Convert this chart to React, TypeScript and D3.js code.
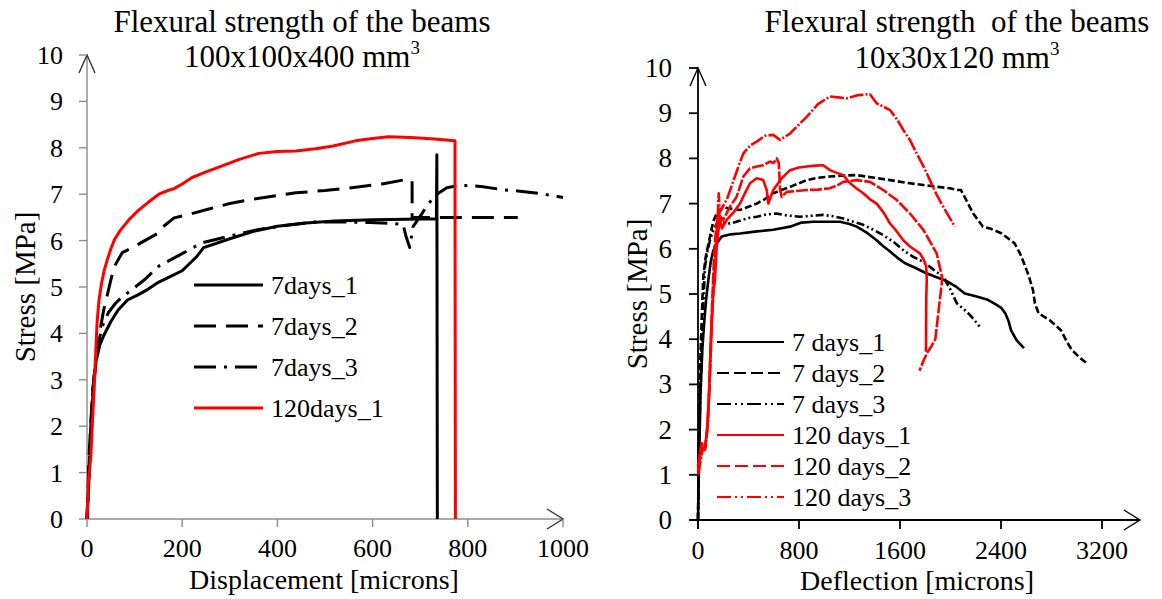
import { scaleLinear, line } from 'd3'

type Pt = [number, number]

// ---- left panel: 100x100x400 beams, displacement vs stress
const leftXTicks = [0, 200, 400, 600, 800, 1000]
const leftYTicks = [0, 1, 2, 3, 4, 5, 6, 7, 8, 9, 10]
const leftNames = ['7days_1', '7days_2', '7days_3', '120days_1']

const big7d1: Pt[] = [
  [0, 0], [3, 0.6], [8, 1.8], [13, 2.8], [19, 3.4], [27, 3.75], [35, 3.95], [50, 4.25], [65, 4.5],
  [85, 4.72], [105, 4.82], [128, 4.95], [150, 5.1], [180, 5.25], [200, 5.35], [215, 5.5], [230, 5.65],
  [245, 5.85], [300, 6.04], [350, 6.2], [400, 6.31], [460, 6.38], [520, 6.42], [600, 6.45], [672, 6.46],
  [734, 6.47], [735, 7.85], [736, 0],
]
const big7d2: Pt[] = [
  [0, 0], [5, 1.5], [12, 2.8], [20, 3.5], [27, 4.05], [35, 4.5], [42, 4.8], [50, 5.15], [58, 5.45],
  [74, 5.74], [95, 5.85], [113, 5.95], [151, 6.17], [160, 6.3], [183, 6.49], [220, 6.58], [252, 6.67],
  [300, 6.8], [346, 6.89], [400, 6.97], [439, 7.03], [500, 7.08], [556, 7.14], [620, 7.22], [672, 7.32],
  [683, 7.29], [683, 6.5], [905, 6.5],
]
const big7d3: Pt[] = [
  [0, 0], [4, 1.0], [9, 2.2], [15, 3.1], [22, 3.7], [32, 4.15], [45, 4.45], [60, 4.65], [75, 4.8],
  [89, 4.9], [120, 5.15], [151, 5.45], [200, 5.72], [241, 5.95], [300, 6.1], [361, 6.24], [420, 6.33],
  [478, 6.4], [540, 6.4], [594, 6.39], [640, 6.37], [664, 6.35], [670, 6.1], [678, 5.85], [685, 6.3],
  [703, 6.57], [716, 6.78], [735, 7.0], [756, 7.14], [776, 7.18], [804, 7.19], [832, 7.16], [878, 7.09],
  [905, 7.07], [955, 7.01], [1000, 6.93],
]
const big120d1: Pt[] = [
  [0, 0], [3, 0.8], [8, 1.35], [12, 2.2], [15, 2.8], [18, 3.5], [21, 4.2], [25, 4.7], [30, 5.05],
  [36, 5.35], [43, 5.6], [50, 5.82], [58, 6.03], [70, 6.22], [89, 6.46], [108, 6.65], [128, 6.82],
  [151, 7.0], [170, 7.08], [183, 7.12], [200, 7.22], [221, 7.36], [250, 7.48], [284, 7.61], [320, 7.75],
  [361, 7.88], [400, 7.92], [439, 7.93], [480, 7.98], [517, 8.04], [564, 8.15], [600, 8.2], [633, 8.24],
  [680, 8.22], [730, 8.19], [773, 8.15], [774, 0],
]

// ---- right panel: 10x30x120 beams, deflection vs stress
const rightXTicks = [0, 800, 1600, 2400, 3200]
const rightYTicks = [0, 1, 2, 3, 4, 5, 6, 7, 8, 9, 10]
const rightNames = ['7 days_1', '7 days_2', '7 days_3', '120 days_1', '120 days_2', '120 days_3']

const small7d1: Pt[] = [
  [0, 0], [10, 1.5], [20, 2.8], [35, 3.8], [50, 4.4], [65, 4.9], [82, 5.31], [100, 5.7], [120, 5.95],
  [148, 6.12], [188, 6.27], [260, 6.32], [333, 6.34], [450, 6.38], [596, 6.42], [729, 6.49], [820, 6.58],
  [911, 6.6], [1020, 6.6], [1125, 6.6], [1200, 6.55], [1257, 6.49], [1340, 6.35], [1415, 6.19],
  [1470, 6.05], [1521, 5.94], [1580, 5.8], [1640, 5.68], [1720, 5.58], [1800, 5.47], [1880, 5.38],
  [1960, 5.3], [2050, 5.15], [2113, 5.01], [2200, 4.95], [2289, 4.88], [2345, 4.79], [2400, 4.7],
  [2435, 4.57], [2460, 4.4], [2479, 4.2], [2523, 3.98], [2582, 3.8],
]
const small7d2: Pt[] = [
  [0, 0], [8, 2], [18, 3.5], [30, 4.5], [42, 5.38], [60, 5.8], [95, 6.27], [120, 6.6], [148, 6.78],
  [200, 6.93], [230, 6.9], [333, 6.86], [400, 6.93], [465, 7.0], [530, 7.1], [596, 7.23], [660, 7.3],
  [729, 7.37], [800, 7.45], [861, 7.52], [950, 7.57], [1045, 7.6], [1150, 7.62], [1257, 7.63],
  [1400, 7.57], [1521, 7.52], [1650, 7.46], [1785, 7.41], [1900, 7.37], [1996, 7.34], [2049, 7.3],
  [2083, 7.3], [2130, 7.05], [2180, 6.78], [2257, 6.49], [2313, 6.45], [2406, 6.34], [2508, 6.12],
  [2550, 5.9], [2582, 5.68], [2620, 5.4], [2653, 5.09], [2669, 4.79], [2698, 4.57], [2740, 4.5],
  [2786, 4.42], [2875, 4.2], [2920, 3.95], [2962, 3.76], [3020, 3.6], [3079, 3.47],
]
const small7d3: Pt[] = [
  [0, 0], [10, 1.8], [22, 3.2], [35, 4.3], [55, 5.6], [75, 5.95], [95, 6.19], [120, 6.4], [148, 6.56],
  [200, 6.58], [253, 6.56], [330, 6.62], [400, 6.68], [465, 6.71], [540, 6.76], [618, 6.78], [700, 6.74],
  [808, 6.71], [900, 6.73], [992, 6.75], [1070, 6.72], [1151, 6.67], [1230, 6.6], [1309, 6.53],
  [1390, 6.42], [1468, 6.3], [1550, 6.15], [1626, 5.97], [1700, 5.83], [1785, 5.71], [1860, 5.55],
  [1943, 5.38], [1990, 5.15], [2051, 4.79], [2100, 4.68], [2142, 4.57], [2190, 4.42], [2230, 4.28],
]
const small120d1: Pt[] = [
  [0, 1.1], [20, 1.45], [35, 1.6], [55, 1.55], [75, 2.1], [90, 3.0], [105, 4.2], [120, 5.0], [134, 5.31],
  [148, 6.05], [174, 6.71], [190, 6.45], [210, 6.55], [227, 6.64], [280, 6.8], [333, 7.0], [375, 7.25],
  [412, 7.45], [465, 7.56], [517, 7.52], [544, 7.3], [557, 7.0], [596, 7.3], [660, 7.55], [729, 7.74],
  [800, 7.8], [861, 7.82], [930, 7.84], [992, 7.85], [1045, 7.74], [1100, 7.68], [1151, 7.63],
  [1204, 7.45], [1260, 7.33], [1309, 7.23], [1360, 7.1], [1415, 7.0], [1470, 6.8], [1521, 6.56],
  [1570, 6.4], [1626, 6.19], [1679, 6.05], [1758, 5.9], [1790, 5.75], [1808, 5.6], [1812, 5.31],
  [1808, 4.9], [1806, 3.72],
]
const small120d2: Pt[] = [
  [0, 1.2], [15, 1.5], [30, 1.7], [50, 1.55], [70, 1.9], [85, 2.6], [100, 3.8], [115, 5.0], [130, 6.0],
  [145, 6.5], [161, 6.78], [180, 6.7], [200, 6.64], [253, 6.93], [306, 7.15], [359, 7.6], [412, 7.78],
  [465, 7.82], [517, 7.85], [570, 7.93], [600, 7.9], [623, 8.0], [640, 7.9], [650, 7.3], [663, 7.15],
  [703, 7.26], [780, 7.28], [861, 7.3], [950, 7.31], [1045, 7.34], [1100, 7.4], [1151, 7.48],
  [1257, 7.52], [1362, 7.48], [1468, 7.3], [1574, 7.08], [1679, 6.78], [1785, 6.42], [1840, 6.15],
  [1890, 5.9], [1915, 5.6], [1935, 5.35], [1922, 5.02], [1900, 4.5], [1880, 4.0], [1850, 3.85],
  [1820, 3.72], [1790, 3.55], [1755, 3.3],
]
const small120d3: Pt[] = [
  [0, 1.0], [20, 1.3], [40, 1.6], [60, 1.6], [80, 2.2], [95, 3.2], [110, 4.4], [125, 5.2], [140, 5.9],
  [150, 6.35], [164, 7.23], [172, 6.8], [190, 6.9], [230, 7.1], [280, 7.5], [330, 7.9], [359, 8.11],
  [420, 8.3], [465, 8.37], [530, 8.5], [596, 8.52], [650, 8.41], [729, 8.55], [800, 8.75], [861, 8.92],
  [950, 9.2], [1045, 9.37], [1110, 9.35], [1178, 9.33], [1270, 9.4], [1362, 9.42], [1415, 9.22],
  [1521, 9.07], [1580, 8.85], [1626, 8.63], [1680, 8.4], [1732, 8.11], [1790, 7.8], [1837, 7.52],
  [1890, 7.2], [1943, 6.93], [1990, 6.7], [2035, 6.49],
]

const FONT = '"Liberation Serif", "Times New Roman", serif'
const RED = '#ff0000'

const xL = scaleLinear().domain([0, 1000]).range([87, 563])
const yL = scaleLinear().domain([0, 10]).range([519, 55])
const xR = scaleLinear().domain([0, 3200]).range([698, 1102])
const yR = scaleLinear().domain([0, 10]).range([520, 68])

const pathL = line<Pt>().x((d) => xL(d[0])).y((d) => yL(d[1]))
const pathR = line<Pt>().x((d) => xR(d[0])).y((d) => yR(d[1]))

// style per series (left thick, right thin)
const leftSeries = [
  { data: big7d1, color: '#000', dash: undefined },
  { data: big7d2, color: '#000', dash: '22,10' },
  { data: big7d3, color: '#000', dash: '22,8,3,8' },
  { data: big120d1, color: RED, dash: undefined },
]
const rightSeries = [
  { data: small7d1, color: '#000', dash: undefined, legDash: undefined },
  { data: small7d2, color: '#000', dash: '7,3', legDash: '12,5' },
  { data: small7d3, color: '#000', dash: '8,3,2,3,2,3', legDash: '14,4,2,4,2,4' },
  { data: small120d1, color: RED, dash: undefined, legDash: undefined },
  { data: small120d2, color: RED, dash: '12,2', legDash: '13,5' },
  { data: small120d3, color: RED, dash: '14,2,2,2', legDash: '14,4,2,4,2,4' },
]

function Arrow({ x, y, dir, color }: { x: number; y: number; dir: 'up' | 'right'; color: string }) {
  const d = dir === 'up'
    ? `M${x - 8},${y + 18}L${x},${y}L${x + 8},${y + 18}`
    : `M${x - 16},${y - 10}L${x},${y}L${x - 16},${y + 10}`
  return <path d={d} fill="none" stroke={color} strokeWidth={1.4} />
}

export default function App() {
  const axisGray = '#8c8c8c'
  return (
    <svg width={1162} height={599} style={{ position: 'absolute', left: 0, top: 0, background: '#fff' }}
      fontFamily={FONT}>
      {/* ===== LEFT PANEL ===== */}
      <text x={302} y={32} fontSize={31} textAnchor="middle">Flexural strength of the beams</text>
      <text x={302} y={67} fontSize={31} textAnchor="middle">
        100x100x400 mm<tspan fontSize={19} dy={-13}>3</tspan>
      </text>

      <line x1={xL(0)} x2={xL(0)} y1={yL(0)} y2={yL(10)} stroke={axisGray} strokeWidth={1.4} />
      <line x1={xL(0)} x2={xL(1000)} y1={yL(0)} y2={yL(0)} stroke={axisGray} strokeWidth={1.4} />
      <Arrow x={xL(0)} y={yL(10)} dir="up" color="#333" />
      <Arrow x={xL(1000)} y={yL(0)} dir="right" color="#333" />
      {leftYTicks.map((t) => (
        <g key={'ly' + t}>
          <line x1={xL(0) - 8} x2={xL(0)} y1={yL(t)} y2={yL(t)} stroke={axisGray} strokeWidth={1.4} />
          <text x={63} y={yL(t) + 9} fontSize={26} textAnchor="end">{t}</text>
        </g>
      ))}
      {leftXTicks.map((t) => (
        <g key={'lx' + t}>
          <line x1={xL(t)} x2={xL(t)} y1={yL(0)} y2={yL(0) + 8} stroke={axisGray} strokeWidth={1.4} />
          <text x={xL(t)} y={557} fontSize={26} textAnchor="middle">{t}</text>
        </g>
      ))}
      <text transform={`translate(35,${yL(5)}) rotate(-90)`} fontSize={29} textAnchor="middle">Stress [MPa]</text>
      <text x={324} y={589} fontSize={28} textAnchor="middle">Displacement [microns]</text>

      {leftSeries.map((s, i) => (
        <path key={'ls' + i} d={pathL(s.data) ?? ''} fill="none" stroke={s.color} strokeWidth={3}
          strokeDasharray={s.dash} strokeLinejoin="round" />
      ))}
      {leftNames.map((n, i) => {
        const yy = 285 + i * 41
        return (
          <g key={'ll' + i}>
            <line x1={194} x2={263} y1={yy} y2={yy} stroke={leftSeries[i].color} strokeWidth={3}
              strokeDasharray={leftSeries[i].dash} />
            <text x={271} y={yy + 9} fontSize={26}>{n}</text>
          </g>
        )
      })}

      {/* ===== RIGHT PANEL ===== */}
      <text x={957} y={32} fontSize={31} textAnchor="middle" style={{ whiteSpace: 'pre' }}>
        Flexural strength  of the beams
      </text>
      <text x={957} y={68} fontSize={31} textAnchor="middle">
        10x30x120 mm<tspan fontSize={19} dy={-13}>3</tspan>
      </text>

      <line x1={xR(0)} x2={xR(0)} y1={yR(0) + 9} y2={yR(10)} stroke="#000" strokeWidth={1.8} />
      <line x1={xR(0) - 9} x2={xR(3500)} y1={yR(0)} y2={yR(0)} stroke="#000" strokeWidth={1.8} />
      <Arrow x={xR(0)} y={yR(10)} dir="up" color="#000" />
      <Arrow x={xR(3500)} y={yR(0)} dir="right" color="#000" />
      {rightYTicks.map((t) => (
        <g key={'ry' + t}>
          <line x1={xR(0) - 9} x2={xR(0)} y1={yR(t)} y2={yR(t)} stroke="#000" strokeWidth={1.8} />
          <text x={672} y={yR(t) + 9} fontSize={27} textAnchor="end">{t}</text>
        </g>
      ))}
      {rightXTicks.map((t) => (
        <g key={'rx' + t}>
          <line x1={xR(t)} x2={xR(t)} y1={yR(0)} y2={yR(0) + 9} stroke="#000" strokeWidth={1.8} />
          <text x={xR(t)} y={559} fontSize={26} textAnchor="middle">{t}</text>
        </g>
      ))}
      <text transform={`translate(647,${yR(5)}) rotate(-90)`} fontSize={29} textAnchor="middle">Stress [MPa]</text>
      <text x={917} y={590} fontSize={28} textAnchor="middle">Deflection [microns]</text>

      {rightSeries.map((s, i) => (
        <path key={'rs' + i} d={pathR(s.data) ?? ''} fill="none" stroke={s.color} strokeWidth={2.6}
          strokeDasharray={s.dash} strokeLinejoin="round" />
      ))}
      {rightNames.map((n, i) => {
        const yy = 342 + i * 31
        return (
          <g key={'rl' + i}>
            <line x1={717} x2={784} y1={yy} y2={yy} stroke={rightSeries[i].color} strokeWidth={1.8}
              strokeDasharray={rightSeries[i].legDash} />
            <text x={792} y={yy + 9} fontSize={26}>{n}</text>
          </g>
        )
      })}
    </svg>
  )
}
